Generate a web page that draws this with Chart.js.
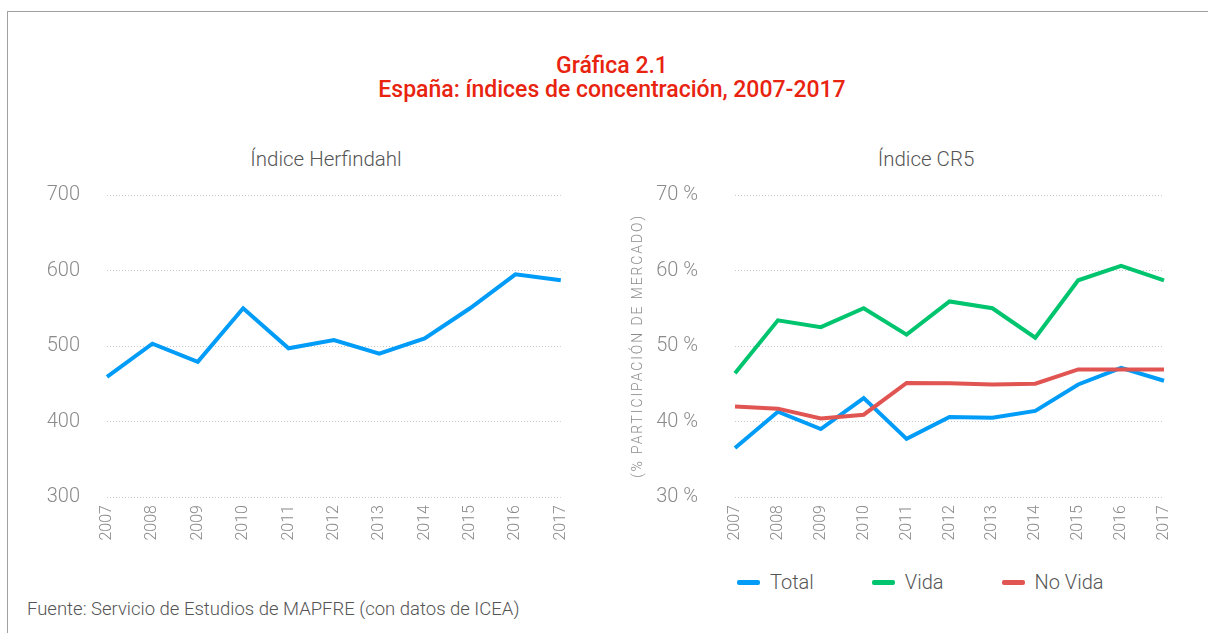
<!DOCTYPE html>
<html>
<head>
<meta charset="utf-8">
<script src="https://cdn.jsdelivr.net/npm/chart.js@4"></script>
<style>
  body { margin: 0; width: 1208px; height: 633px; background: #fff; position: relative; overflow: hidden; font-family: Roboto, 'Noto Sans', sans-serif; }
  .cadre { position: absolute; left: 7px; top: 11px; width: 1400px; height: 700px; border-left: 1px solid #a0a0a0; border-top: 1px solid #a0a0a0; }
  .titre { position: absolute; left: 8px; width: 1208px; top: 54px; text-align: center; color: #e8230f; font-size: 23px; font-weight: 500; line-height: 24px; }
  .sous-titre { position: absolute; top: 147px; color: #555; font-size: 20.5px; font-weight: 300; text-align: center; width: 400px; }
  .graph { position: absolute; top: 180px; height: 380px; }
  .legende { position: absolute; top: 570px; left: 737px; display: flex; align-items: center; font-size: 20px; font-weight: 300; color: #555; }
  .legende .item { display: flex; align-items: center; margin-right: 58px; }
  .legende .trait { width: 23px; height: 5px; border-radius: 2px; margin-right: 10px; }
  .source { position: absolute; left: 27px; top: 598px; font-size: 18.5px; font-weight: 300; color: #555; }
</style>
</head>
<body>
<div class="cadre"></div>
<div class="titre">Gráfica 2.1<br>España: índices de concentración, 2007-2017</div>
<div class="sous-titre" style="left:126px">Índice Herfindahl</div>
<div class="sous-titre" style="left:726px">Índice CR5</div>
<div class="graph" style="left:20px;width:560px"><canvas id="chartHerfindahl"></canvas></div>
<div class="graph" style="left:620px;width:570px"><canvas id="chartCR5"></canvas></div>
<div class="legende" id="legende"></div>
<div class="source">Fuente: Servicio de Estudios de MAPFRE (con datos de ICEA)</div>

<script>
// Données
const annees = ['2007', '2008', '2009', '2010', '2011', '2012', '2013', '2014', '2015', '2016', '2017'];
const herfindahl = [459, 503, 479, 550, 497, 508, 490, 510, 550, 595, 587];
const cr5Total  = [36.5, 41.3, 39.0, 43.1, 37.7, 40.6, 40.5, 41.4, 44.9, 47.1, 45.4];
const cr5Vida   = [46.4, 53.4, 52.5, 55.0, 51.5, 55.9, 55.0, 51.1, 58.7, 60.6, 58.7];
const cr5NoVida = [42.0, 41.7, 40.4, 40.9, 45.1, 45.05, 44.9, 45.0, 46.9, 46.9, 46.9];

const bleu = '#009cf7';
const vert = '#00c46e';
const rouge = '#e05552';
const gris = '#8a8a8a';

const axeX = (hauteur) => ({
  grid: { display: true, color: 'transparent', drawOnChartArea: false, drawTicks: true, tickLength: 8 },
  border: { display: false },
  ticks: {
    color: gris, font: { family: 'Roboto', size: 16, weight: 300 },
    minRotation: 90, maxRotation: 90, autoSkip: false, padding: 0
  },
  afterFit: (s) => { s.height = hauteur; }
});

const axeY = (min, max, pas, largeur, recul) => ({
  min, max,
  grid: { color: '#c8c8c8', drawTicks: true, tickLength: recul, tickColor: 'transparent' },
  border: { display: false, dash: [1, 2] },
  ticks: { stepSize: pas, color: gris, font: { family: 'Roboto', size: 20, weight: 300 }, padding: 3 },
  afterFit: (s) => { s.width = largeur; }
});

const ligne = (label, data, couleur) => ({
  label, data,
  borderColor: couleur, backgroundColor: couleur,
  borderWidth: 4, pointRadius: 0, tension: 0, fill: false
});

// 1. Indice Herfindahl
new Chart(document.getElementById('chartHerfindahl'), {
  type: 'line',
  data: { labels: annees, datasets: [ligne('Herfindahl', herfindahl, bleu)] },
  options: {
    responsive: true, maintainAspectRatio: false, animation: false,
    layout: { padding: { top: 14, right: 16, left: 0, bottom: 0 } },
    plugins: { legend: { display: false }, tooltip: { enabled: false } },
    scales: {
      x: axeX(63),
      y: axeY(300, 700, 100, 87, 24)
    }
  }
});

// 2. Indice CR5
const seriesCR5 = [
  ligne('Total', cr5Total, bleu),
  ligne('Vida', cr5Vida, vert),
  ligne('No Vida', cr5NoVida, rouge)
];

const axeCR5 = axeY(30, 70, 10, 115, 34);
axeCR5.ticks.callback = (v) => v + ' %';
axeCR5.title = {
  display: true, text: '(% PARTICIPACIÓN DE MERCADO)', color: gris,
  font: { family: 'Roboto', size: 14, weight: 300 }, padding: { top: 10, bottom: 0 }
};
// espacement des lettres du titre de l'axe
axeCR5.afterUpdate = (s) => {
  if (s._espace) return;
  const dessin = s.drawTitle.bind(s);
  s.drawTitle = function () {
    s.ctx.save();
    s.ctx.letterSpacing = '1.9px';
    dessin();
    s.ctx.restore();
  };
  s._espace = true;
};

new Chart(document.getElementById('chartCR5'), {
  type: 'line',
  data: { labels: annees, datasets: [seriesCR5[2], seriesCR5[1], seriesCR5[0]] },
  options: {
    responsive: true, maintainAspectRatio: false, animation: false,
    layout: { padding: { top: 14, right: 26, left: 0, bottom: 0 } },
    plugins: { legend: { display: false }, tooltip: { enabled: false } },
    scales: {
      x: axeX(63),
      y: axeCR5
    }
  }
});

// Légende
document.getElementById('legende').innerHTML = seriesCR5.map(s => `
  <div class="item"><span class="trait" style="background:${s.borderColor}"></span>${s.label}</div>
`).join('');
</script>
</body>
</html>
